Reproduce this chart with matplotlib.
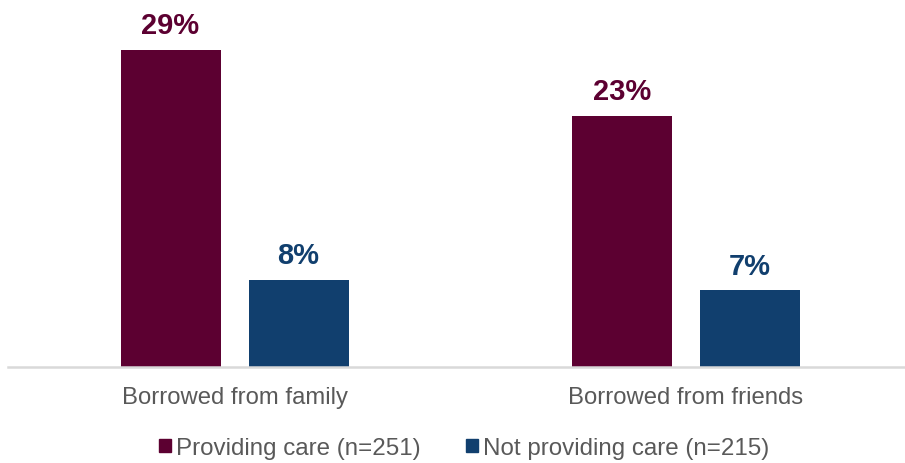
import matplotlib.pyplot as plt
from matplotlib.patches import Patch
import numpy as np

plt.rcParams['font.family'] = ['Liberation Sans', 'DejaVu Sans']

# data
categories = ["Borrowed from family", "Borrowed from friends"]
series = ["Providing care (n=251)", "Not providing care (n=215)"]
providing = [29, 23]
not_providing = [8, 7]
colors = ["#5c0031", "#113f6e"]

W, H = 905, 464
fig = plt.figure(figsize=(W / 100, H / 100), dpi=100)
ax = fig.add_axes([8 / W, 96 / H, 897 / W, 368 / H])

x = np.arange(len(categories))
bw = 100 / 451.5
off = 64 / 451.5
b1 = ax.bar(x - off, providing, bw, color=colors[0])
b2 = ax.bar(x + off, not_providing, bw, color=colors[1])

for bars, vals, c in [(b1, providing, colors[0]), (b2, not_providing, colors[1])]:
    for rect, v in zip(bars, vals):
        ax.annotate(f"{v}%", (rect.get_x() + rect.get_width() / 2, v),
                    xytext=(0, 12), textcoords="offset points",
                    ha="center", va="baseline", fontsize=21,
                    fontweight="bold", color=c)

ax.set_xlim(-0.5017, 1.485)
ax.set_ylim(0, 368 / 10.93)
ax.set_yticks([])
ax.set_xticks(x)
ax.set_xticklabels(categories, fontsize=17.2, color="#595959")
ax.tick_params(axis="x", length=0, pad=14)
for s in ["top", "right", "left"]:
    ax.spines[s].set_visible(False)
ax.spines["bottom"].set_color("#d9d9d9")
ax.spines["bottom"].set_linewidth(1.8)

handles = [Patch(color=colors[0]), Patch(color=colors[1])]
fig.legend(handles, series, loc="center", bbox_to_anchor=(464 / W, 15 / H),
           ncol=2, frameon=False, fontsize=17.4, handlelength=0.5,
           handleheight=0.5, handletextpad=0.2, columnspacing=1.9,
           borderpad=0, labelcolor="#595959")

fig.savefig("out.png", dpi=100)
